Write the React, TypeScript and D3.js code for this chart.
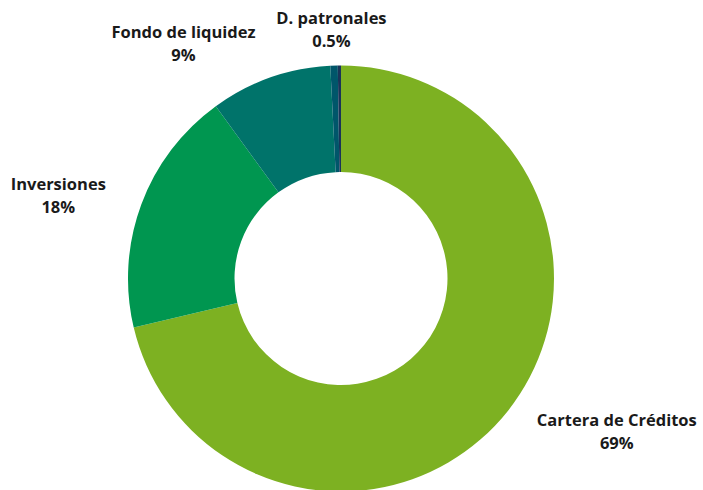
import * as d3 from "d3";

const categories = ["Cartera de Créditos", "Inversiones", "Fondo de liquidez", "D. patronales", "Otros"];
const shares = [71.3, 18.7, 9.2, 0.56, 0.24];
const labelTexts = ["69%", "18%", "9%", "0.5%", ""];
const colors = ["#7db122", "#009650", "#00736a", "#00566a", "#1a3358"];

// manual nudges for the data labels, relative to the arc centroid on the label ring
const labelNudge: [number, number][] = [
  [46, -22],
  [-8, 25],
  [-60, 47.5],
  [0, 50],
  [0, 0],
];

type Slice = { name: string; value: number; label: string; color: string };

export default function App() {
  const width = 703;
  const height = 490;
  const cx = 341;
  const cy = 278.5;
  const outerR = 213;
  const innerR = 106.5;
  const labelR = 293;

  const data: Slice[] = categories.map((name, i) => ({
    name,
    value: shares[i],
    label: labelTexts[i],
    color: colors[i],
  }));

  const pie = d3
    .pie<Slice>()
    .sort(null)
    .value((d) => d.value);
  const arcs = pie(data);

  const arc = d3.arc<d3.PieArcDatum<Slice>>().innerRadius(innerR).outerRadius(outerR);
  const labelArc = d3.arc<d3.PieArcDatum<Slice>>().innerRadius(labelR).outerRadius(labelR);

  return (
    <svg
      width={width}
      height={height}
      style={{ position: "absolute", left: 0, top: 0, background: "#fff" }}
      fontFamily="'Open Sans', 'Noto Sans', sans-serif"
    >
      <g transform={`translate(${cx}, ${cy})`}>
        {arcs.map((a) => (
          <path key={a.data.name} d={arc(a) ?? ""} fill={a.data.color} />
        ))}
        {arcs.map((a, i) => {
          if (!a.data.label) return null;
          const [lx, ly] = labelArc.centroid(a);
          const x = lx + labelNudge[i][0];
          const y = ly + labelNudge[i][1];
          return (
            <text
              key={`lbl-${a.data.name}`}
              x={x}
              y={y}
              textAnchor="middle"
              fontSize={16.5}
              fontWeight={700}
              fill="#1a1a1a"
            >
              <tspan x={x} dy={-12}>
                {a.data.name}
              </tspan>
              <tspan x={x} dy={23}>
                {a.data.label}
              </tspan>
            </text>
          );
        })}
      </g>
    </svg>
  );
}
